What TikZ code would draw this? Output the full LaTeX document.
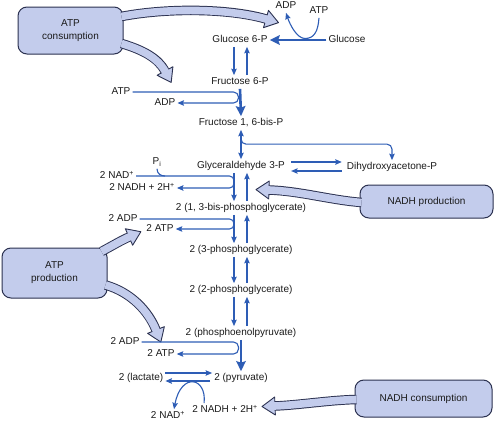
\documentclass[tikz,border=0pt]{standalone}
\usepackage{fontspec}
\setmainfont{Liberation Sans}
\usetikzlibrary{arrows.meta,calc}
\definecolor{pblue}{HTML}{2E5DB5}
\definecolor{bfill}{HTML}{C3CCEC}
\definecolor{bout}{HTML}{2B3150}
\definecolor{txt}{HTML}{1A1A1A}
\newcommand{\blockarr}[4]{%
  \draw[line width=9.5pt, draw=bout] (#1) .. controls (#2) and (#3) .. (#4);
  \filldraw[fill=bfill, draw=bout, line width=0.9pt, line join=round]
    ($(#4)!-13pt!(#3)$) -- ($(#4)!9pt!90:(#3)$) -- ($(#4)!9pt!-90:(#3)$) -- cycle;
  \draw[line width=7.6pt, draw=bfill] (#1) .. controls (#2) and (#3) .. ($(#4)!-1.3pt!(#3)$);
}
\begin{document}
\begin{tikzpicture}[x=1pt,y=-1pt,
  lbl/.style={inner sep=2pt, text height=7.3pt, text depth=2pt, font=\fontsize{10}{12}\selectfont, text=txt},
  box/.style={draw=bout, fill=bfill, line width=1pt, rounded corners=9pt, align=center, font=\fontsize{10}{13}\selectfont, text=txt, inner sep=0pt},
  thin/.style={draw=pblue, line width=1.1pt, -{Stealth[length=6.5pt,width=5.5pt,inset=1pt]}},
  thinline/.style={draw=pblue, line width=1.1pt},
  dbl/.style={draw=pblue, line width=1.1pt, {Stealth[length=6.5pt,width=5.5pt,inset=1pt]}-{Stealth[length=6.5pt,width=5.5pt,inset=1pt]}},
  thk/.style={draw=pblue, line width=2.6pt, -{Stealth[length=10pt,width=9.5pt,inset=1.5pt]}},
]
\useasboundingbox (0,0) rectangle (496,423);

% ---- text nodes
\node[lbl] (g6p) at (240,40) {Glucose 6-P};
\node[lbl] (glc) at (347,40) {Glucose};
\node[lbl] (adp0) at (286,6) {ADP};
\node[lbl] (atp0) at (319,11) {ATP};
\node[lbl] (f6p) at (240,82) {Fructose 6-P};
\node[lbl] (atp1) at (121,92) {ATP};
\node[lbl] (adp1) at (165,103) {ADP};
\node[lbl] (f16) at (241,123) {Fructose 1, 6-bis-P};
\node[lbl] (g3p) at (241,166) {Glyceraldehyde 3-P};
\node[lbl] (dhap) at (392,167) {Dihydroxyacetone-P};
\node[lbl] (pi) at (157,162) {P\textsubscript{i}};
\node[lbl] (nad1) at (117,176) {2 NAD\textsuperscript{+}};
\node[lbl] (nadh1) at (142,188) {2 NADH + 2H\textsuperscript{+}};
\node[lbl] (bpg) at (241,208) {2 (1, 3-bis-phosphoglycerate)};
\node[lbl] (adp2) at (123,219) {2 ADP};
\node[lbl] (atp2) at (160,229) {2 ATP};
\node[lbl] (pg3) at (241,250) {2 (3-phosphoglycerate)};
\node[lbl] (pg2) at (241,290) {2 (2-phosphoglycerate)};
\node[lbl] (pep) at (241,333) {2 (phosphoenolpyruvate)};
\node[lbl] (adp3) at (125,342) {2 ADP};
\node[lbl] (atp3) at (161,354) {2 ATP};
\node[lbl] (lac) at (141,378) {2 (lactate)};
\node[lbl] (pyr) at (241,378) {2 (pyruvate)};
\node[lbl] (nad4) at (168,416) {2 NAD\textsuperscript{+}};
\node[lbl] (nadh4) at (225,410) {2 NADH + 2H\textsuperscript{+}};

% ---- boxes
\node[box, minimum width=105pt, minimum height=47pt] (bxc) at (70.5,30.5) {ATP\\consumption};
\node[box, minimum width=133pt, minimum height=33pt] (bnp) at (426.5,201.5) {NADH production};
\node[box, minimum width=105pt, minimum height=50pt] (bxp) at (54.5,273) {ATP\\production};
\node[box, minimum width=137pt, minimum height=37pt] (bnc) at (423.5,398.5) {NADH consumption};

% ---- block arrows
\coordinate (a1s) at ($(bxc.east)+(-2,-14)$);
\coordinate (a1c) at (165,8); \coordinate (a1d) at (228,8); \coordinate (a1b) at (266,19);
\coordinate (a2s) at ($(bxc.east)+(-2,13)$);
\coordinate (a2c) at (143,50); \coordinate (a2d) at (158,58); \coordinate (a2b) at (165,71);
\coordinate (a3s) at ($(bnp.west)+(2,1)$);
\coordinate (a3c) at (330,200); \coordinate (a3d) at (300,191); \coordinate (a3b) at (269,190);
\coordinate (a4s) at ($(bxp.north east)+(-6,4)$);
\coordinate (a4c) at (112,246); \coordinate (a4d) at (120,241); \coordinate (a4b) at (129,237);
\coordinate (a5s) at ($(bxp.east)+(-2,12)$);
\coordinate (a5c) at (130,292); \coordinate (a5d) at (148,310); \coordinate (a5b) at (156,330);
\coordinate (a6s) at ($(bnc.west)+(2,1)$);
\coordinate (a6c) at (330,400); \coordinate (a6d) at (300,405); \coordinate (a6b) at (275,406);
\blockarr{a1s}{a1c}{a1d}{a1b}
\blockarr{a2s}{a2c}{a2d}{a2b}
\blockarr{a3s}{a3c}{a3d}{a3b}
\blockarr{a4s}{a4c}{a4d}{a4b}
\blockarr{a5s}{a5c}{a5d}{a5b}
\blockarr{a6s}{a6c}{a6d}{a6b}

% ---- pathway
\draw[thk] (glc.west) -- (g6p.east);
\coordinate (jc) at (305,38.5);
\draw[thin] (atp0.south) .. controls +(-1,14) and +(9,0) .. (jc)
  .. controls +(-8,0) and +(4,12) .. (adp0.south);

\draw[thin] ($(g6p.south)+(-6,0)$) -- ($(f6p.north)+(-6,0)$);
\draw[thin] ($(f6p.north)+(7,0)$) -- ($(g6p.south)+(7,0)$);

\coordinate (hx1) at (238.5,0);
\draw[thin, rounded corners=5pt] (atp1.east) -- (atp1.east -| hx1) -- (hx1 |- adp1.east) -- (adp1.east);
\draw[thk] (f6p.south) -- (f16.north);

\draw[dbl] (f16.south) -- (g3p.north);
\coordinate (br) at ($(f16.south)!0.25!(g3p.north)$);
\draw[thin, rounded corners=5pt] (br) |- ($(dhap.north)+(0,-16)$) -- (dhap.north);

\draw[thin] ($(g3p.east)+(4,-4)$) -- ($(g3p.east -| dhap.west)+(-3,-4)$);
\draw[thin] ($(g3p.east -| dhap.west)+(-3,5)$) -- ($(g3p.east)+(4,5)$);

\coordinate (hx2) at (234,0);
\draw[thin, rounded corners=4.5pt] (nad1.east) -- (nad1.east -| hx2) -- (hx2 |- nadh1.east) -- (nadh1.east);
\coordinate (pij) at ($(nad1.east -| pi.south)+(8,0)$);
\draw[thinline] (pi.south) .. controls +(0,5) and +(-4,0) .. (pij);
\draw[thin] ($(g3p.south)+(-7,0)$) -- ($(bpg.north)+(-7,0)$);
\draw[thin] ($(bpg.north)+(6,0)$) -- ($(g3p.south)+(6,0)$);

\draw[thin, rounded corners=4.5pt] (adp2.east) -- (adp2.east -| hx2) -- (hx2 |- atp2.east) -- (atp2.east);
\draw[thin] ($(bpg.south)+(-7,0)$) -- ($(pg3.north)+(-7,0)$);
\draw[thin] ($(pg3.north)+(6,0)$) -- ($(bpg.south)+(6,0)$);

\draw[thin] ($(pg3.south)+(-7,0)$) -- ($(pg2.north)+(-7,0)$);
\draw[thin] ($(pg2.north)+(6,0)$) -- ($(pg3.south)+(6,0)$);

\draw[thin] ($(pg2.south)+(-7,0)$) -- ($(pep.north)+(-7,0)$);
\draw[thin] ($(pep.north)+(6,0)$) -- ($(pg2.south)+(6,0)$);

\draw[thin, rounded corners=5pt] (adp3.east) -- (adp3.east -| hx1) -- (hx1 |- atp3.east) -- (atp3.east);
\draw[thk] (pep.south) -- (pyr.north);

\draw[thin] ($(lac.east)+(0,-5)$) -- ($(pyr.west)+(0,-5)$);
\draw[thin] ($(pyr.west)+(-2,3)$) -- ($(lac.east)+(0,3)$);

\coordinate (ns) at ($(nadh4.north west)+(14,0)$);
\coordinate (ne) at ($(nad4.north)+(6,0)$);
\draw[thin] (ns) .. controls (207,377) and (181,372) .. (ne);
\end{tikzpicture}
\end{document}
